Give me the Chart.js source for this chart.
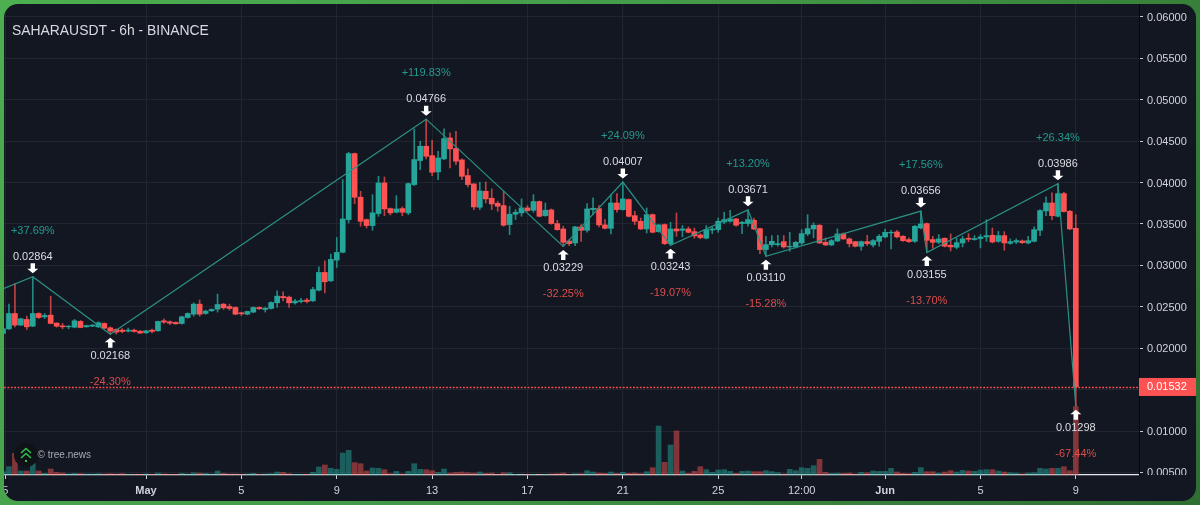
<!DOCTYPE html>
<html><head><meta charset="utf-8">
<style>
html,body{margin:0;padding:0;width:1200px;height:505px;overflow:hidden;background:linear-gradient(125deg,#4caf50 0%,#449a48 45%,#2e6e31 100%);}
#wrap{position:absolute;left:4px;top:4px;width:1192px;height:497px;border-radius:14px;overflow:hidden;background:#131722;}
canvas{display:block;}
</style>
<script src="https://cdn.jsdelivr.net/npm/chart.js@4/dist/chart.umd.min.js"></script>
</head><body><div id="wrap"><canvas id="c" width="1192" height="497"></canvas></div>
<script>
const title = "SAHARAUSDT - 6h - BINANCE";
const watermark = "\u00a9 tree.news";
const firstBar = -24; // 6h bars counted from 1 May 00:00
const opens = [
0.02178,0.02234,0.02419,0.02279,0.02347,0.02266,0.02419,0.02379,0.02399,0.02303,
0.02270,0.02258,0.02254,0.02323,0.02258,0.02266,0.02258,0.02299,0.02246,0.02226,
0.02218,0.02206,0.02218,0.02206,0.02186,0.02218,0.02210,0.02331,0.02319,0.02311,
0.02299,0.02371,0.02411,0.02532,0.02419,0.02452,0.02472,0.02532,0.02504,0.02492,
0.02428,0.02411,0.02436,0.02492,0.02468,0.02480,0.02548,0.02625,0.02617,0.02548,
0.02564,0.02581,0.02572,0.02701,0.02915,0.02814,0.03064,0.03159,0.03553,0.04350,
0.03823,0.03553,0.03481,0.03626,0.03996,0.03686,0.03642,0.03686,0.03634,0.03976,
0.04266,0.04439,0.04326,0.04129,0.04286,0.04539,0.04411,0.04274,0.04085,0.03984,
0.03702,0.03895,0.03811,0.03750,0.03722,0.03493,0.03618,0.03634,0.03694,0.03666,
0.03771,0.03601,0.03670,0.03505,0.03440,0.03295,0.03271,0.03465,0.03424,0.03674,
0.03686,0.03489,0.03448,0.03754,0.03674,0.03795,0.03601,0.03533,0.03440,0.03613,
0.03408,0.03493,0.03263,0.03440,0.03424,0.03440,0.03408,0.03368,0.03328,0.03428,
0.03432,0.03525,0.03533,0.03561,0.03505,0.03505,0.03545,0.03444,0.03191,0.03251,
0.03251,0.03287,0.03223,0.03223,0.03271,0.03380,0.03440,0.03485,0.03279,0.03247,
0.03295,0.03380,0.03320,0.03287,0.03231,0.03287,0.03247,0.03291,0.03344,0.03392,
0.03404,0.03352,0.03312,0.03291,0.03452,0.03505,0.03312,0.03279,0.03328,0.03243,
0.03219,0.03271,0.03328,0.03312,0.03324,0.03344,0.03364,0.03291,0.03360,0.03267,
0.03283,0.03295,0.03271,0.03291,0.03424,0.03658,0.03754,0.03593,0.03867,0.03654,0.03448];
const highs = [
0.02240,0.02532,0.02782,0.02360,0.02387,0.02864,0.02428,0.02419,0.02629,0.02307,
0.02299,0.02274,0.02347,0.02335,0.02278,0.02286,0.02319,0.02307,0.02258,0.02234,
0.02238,0.02242,0.02230,0.02214,0.02214,0.02230,0.02327,0.02355,0.02331,0.02319,
0.02387,0.02427,0.02548,0.02581,0.02460,0.02476,0.02653,0.02540,0.02532,0.02500,
0.02436,0.02448,0.02500,0.02500,0.02492,0.02560,0.02693,0.02681,0.02629,0.02589,
0.02601,0.02601,0.02734,0.02983,0.03056,0.03136,0.03337,0.04036,0.04366,0.04358,
0.03895,0.03561,0.03855,0.04076,0.04068,0.03694,0.03843,0.03706,0.03996,0.04648,
0.04499,0.04766,0.04511,0.04378,0.04648,0.04600,0.04620,0.04286,0.04165,0.03988,
0.04004,0.04008,0.03924,0.03775,0.03895,0.03714,0.03674,0.03803,0.03722,0.03855,
0.03779,0.03754,0.03682,0.03545,0.03473,0.03312,0.03473,0.03493,0.03746,0.03815,
0.03722,0.03553,0.03855,0.03867,0.04007,0.03803,0.03654,0.03573,0.03694,0.03622,
0.03497,0.03501,0.03521,0.03634,0.03481,0.03465,0.03452,0.03384,0.03481,0.03465,
0.03573,0.03642,0.03666,0.03569,0.03533,0.03671,0.03573,0.03452,0.03352,0.03360,
0.03364,0.03360,0.03400,0.03291,0.03432,0.03613,0.03513,0.03493,0.03332,0.03312,
0.03440,0.03392,0.03332,0.03291,0.03295,0.03364,0.03312,0.03372,0.03440,0.03424,
0.03424,0.03360,0.03332,0.03481,0.03656,0.03513,0.03352,0.03372,0.03332,0.03380,
0.03328,0.03352,0.03384,0.03360,0.03372,0.03553,0.03452,0.03412,0.03408,0.03320,
0.03320,0.03307,0.03352,0.03465,0.03674,0.03827,0.03875,0.03986,0.03883,0.03666,0.03613];
const lows = [
0.02170,0.02226,0.02258,0.02275,0.02226,0.02260,0.02359,0.02359,0.02295,0.02254,
0.02234,0.02234,0.02246,0.02246,0.02254,0.02262,0.02250,0.02238,0.02168,0.02170,
0.02186,0.02198,0.02194,0.02178,0.02178,0.02186,0.02206,0.02299,0.02283,0.02287,
0.02291,0.02363,0.02387,0.02387,0.02411,0.02444,0.02436,0.02468,0.02460,0.02403,
0.02395,0.02403,0.02428,0.02468,0.02436,0.02472,0.02492,0.02572,0.02492,0.02532,
0.02548,0.02548,0.02564,0.02693,0.02669,0.02806,0.02975,0.03151,0.03513,0.03746,
0.03473,0.03452,0.03424,0.03593,0.03601,0.03609,0.03634,0.03601,0.03613,0.03964,
0.04157,0.04286,0.04085,0.04036,0.04278,0.04177,0.04217,0.04036,0.03948,0.03674,
0.03674,0.03754,0.03674,0.03654,0.03473,0.03372,0.03553,0.03593,0.03654,0.03642,
0.03585,0.03593,0.03497,0.03424,0.03229,0.03239,0.03239,0.03291,0.03400,0.03613,
0.03465,0.03440,0.03380,0.03642,0.03666,0.03585,0.03493,0.03432,0.03392,0.03392,
0.03400,0.03251,0.03243,0.03352,0.03344,0.03392,0.03328,0.03320,0.03320,0.03384,
0.03400,0.03505,0.03521,0.03473,0.03384,0.03473,0.03432,0.03142,0.03110,0.03223,
0.03231,0.03207,0.03171,0.03211,0.03251,0.03360,0.03332,0.03263,0.03239,0.03239,
0.03287,0.03312,0.03223,0.03223,0.03183,0.03239,0.03223,0.03231,0.03332,0.03199,
0.03332,0.03291,0.03279,0.03279,0.03440,0.03155,0.03207,0.03263,0.03223,0.03175,
0.03199,0.03223,0.03287,0.03304,0.03211,0.03291,0.03271,0.03279,0.03183,0.03255,
0.03263,0.03263,0.03259,0.03283,0.03360,0.03601,0.03553,0.03585,0.03642,0.03432,0.01298];
const closes = [
0.02234,0.02419,0.02279,0.02355,0.02258,0.02419,0.02371,0.02395,0.02299,0.02266,
0.02258,0.02266,0.02331,0.02250,0.02274,0.02279,0.02307,0.02242,0.02206,0.02194,
0.02202,0.02218,0.02202,0.02182,0.02210,0.02202,0.02323,0.02315,0.02303,0.02295,
0.02379,0.02419,0.02532,0.02411,0.02448,0.02468,0.02528,0.02488,0.02480,0.02411,
0.02415,0.02444,0.02492,0.02476,0.02484,0.02552,0.02629,0.02609,0.02548,0.02568,
0.02576,0.02564,0.02709,0.02915,0.02802,0.03072,0.03156,0.03561,0.04350,0.03823,
0.03533,0.03481,0.03634,0.03996,0.03682,0.03634,0.03682,0.03642,0.03988,0.04278,
0.04439,0.04318,0.04125,0.04298,0.04531,0.04407,0.04258,0.04076,0.03976,0.03706,
0.03899,0.03803,0.03742,0.03714,0.03485,0.03618,0.03642,0.03694,0.03662,0.03771,
0.03593,0.03666,0.03505,0.03432,0.03279,0.03263,0.03465,0.03424,0.03682,0.03690,
0.03489,0.03448,0.03754,0.03674,0.03803,0.03593,0.03533,0.03440,0.03613,0.03400,
0.03489,0.03263,0.03440,0.03416,0.03440,0.03400,0.03356,0.03336,0.03432,0.03440,
0.03533,0.03553,0.03561,0.03485,0.03521,0.03553,0.03440,0.03191,0.03251,0.03291,
0.03263,0.03223,0.03231,0.03279,0.03384,0.03444,0.03485,0.03271,0.03247,0.03299,
0.03380,0.03320,0.03263,0.03231,0.03287,0.03263,0.03299,0.03352,0.03400,0.03400,
0.03344,0.03299,0.03287,0.03473,0.03501,0.03303,0.03279,0.03320,0.03231,0.03223,
0.03275,0.03320,0.03316,0.03324,0.03344,0.03360,0.03283,0.03360,0.03271,0.03287,
0.03299,0.03275,0.03299,0.03432,0.03662,0.03754,0.03601,0.03867,0.03650,0.03440,0.01532];
const volumes = [
10,25,65,12,12,35,12,5,18,8,
6,3,5,4,3,3,4,3,4,3,
4,2,2,2,3,2,6,3,2,2,
5,3,7,6,5,3,12,5,3,3,
2,3,5,2,3,4,9,8,4,2,
2,2,8,24,30,20,17,66,74,37,
34,12,21,20,16,4,11,3,11,34,
17,16,13,8,18,6,8,9,7,6,
9,5,6,2,7,7,2,1,2,2,
1,2,3,4,6,2,4,4,13,9,
6,5,9,5,8,5,6,4,10,22,
147,38,90,132,12,5,11,25,16,8,
15,16,11,5,11,12,10,10,13,10,
7,3,17,13,22,20,28,47,8,5,
6,5,6,3,8,7,12,11,11,20,
9,5,4,8,22,10,10,6,9,13,
9,14,12,11,15,16,16,12,9,7,
6,3,6,7,20,18,20,20,25,13,205];
// zig-zag pivots
const pivotBars   = [-46,-19,-6,47,70,80,88,101,104,130,131,153,156];
const pivotPrices = [0.0208,0.02864,0.02168,0.04766,0.03229,0.04007,0.03243,0.03671,0.03110,0.03656,0.03155,0.03986,0.01298];
const pivotPcts   = ["","+37.69%","-24.30%","+119.83%","-32.25%","+24.09%","-19.07%","+13.20%","-15.28%","+17.56%","-13.70%","+26.34%","-67.44%"];
// axes
const priceTicks = [0.005,0.01,0.015,0.02,0.025,0.03,0.035,0.04,0.045,0.05,0.055,0.06];
const timeTickBars = [-23.6,0,16,32,48,64,80,96,110,124,140,156];
const timeTickLabels = ["5","May","5","9","13","17","21","25","12:00","Jun","5","9"];
const boldTimeLabels = ["May","Jun"];

const UP='#26a69a', DOWN='#ff5252', BG='#131722', TXT='#d1d4dc', FONT='"Liberation Sans",Arial,sans-serif';
const bars = opens.map((_,i)=>firstBar+i);
const colors = opens.map((o,i)=>closes[i]>=o?UP:DOWN);
const wickColors = opens.map((o,i)=>closes[i]>=o?'rgba(38,166,154,.8)':'rgba(255,82,82,.72)');
const volColors = opens.map((o,i)=>closes[i]>=o?'rgba(38,166,154,.5)':'rgba(239,83,80,.5)');
const lastClose = closes[closes.length-1];

function fixPad(s){s.paddingLeft=s.paddingRight=s.paddingTop=s.paddingBottom=0;}
function shiftLabels(s,dy){
  const orig=s.drawLabels;
  s.drawLabels=function(area){const c=this.ctx;c.save();c.translate(0,dy);orig.call(this,area);c.restore();};
}

const overlay = {
  id:'overlay',
  afterLayout(chart){
    if(chart.$shifted)return;chart.$shifted=true;
    shiftLabels(chart.scales.x,1);shiftLabels(chart.scales.y,1);
  },
  afterDatasetsDraw(chart){
    const {ctx,chartArea:a,scales:{x,y}}=chart;
    ctx.save();
    // last price dotted line
    const ly=Math.round(y.getPixelForValue(lastClose))+.5;
    ctx.strokeStyle='#ff4d4d';ctx.lineWidth=1.4;ctx.setLineDash([1.8,1.6]);
    ctx.beginPath();ctx.moveTo(a.left,ly);ctx.lineTo(a.right,ly);ctx.stroke();ctx.setLineDash([]);
    // pivots
    ctx.textAlign='center';ctx.textBaseline='middle';
    pivotBars.forEach((b,i)=>{
      if(!pivotPcts[i])return;
      const px=x.getPixelForValue(b),py=y.getPixelForValue(pivotPrices[i]);
      const up=pivotPcts[i][0]==='+';
      const d=up?-1:1;
      ctx.fillStyle='#fff';
      ctx.beginPath();
      const t=py+d*3.5,m=py+d*8,e=py+d*13.5;
      ctx.moveTo(px,t);ctx.lineTo(px+5.5,m);ctx.lineTo(px+2.2,m);ctx.lineTo(px+2.2,e);
      ctx.lineTo(px-2.2,e);ctx.lineTo(px-2.2,m);ctx.lineTo(px-5.5,m);ctx.closePath();ctx.fill();
      ctx.font='11px '+FONT;ctx.fillStyle='#dcdee4';
      ctx.fillText(pivotPrices[i].toFixed(5),px,py+d*21+1);
      ctx.fillStyle=up?'rgba(38,166,154,.9)':'rgba(239,83,80,.9)';
      ctx.fillText(pivotPcts[i],px,py+d*47+1);
    });
    // title
    ctx.textAlign='left';ctx.font='13.9px '+FONT;ctx.fillStyle='#d8dae0';
    ctx.fillText(title,8,27.5);
    // watermark
    ctx.fillStyle='#0f1216';ctx.beginPath();ctx.arc(22,451,12,0,Math.PI*2);ctx.fill();
    ctx.strokeStyle='#2fc24f';ctx.lineWidth=1.6;
    [444.5,449.5].forEach(v=>{ctx.beginPath();ctx.moveTo(17,v+4.5);ctx.lineTo(22,v);ctx.lineTo(27,v+4.5);ctx.stroke();});
    ctx.fillStyle='#2fc24f';ctx.fillRect(21,456,2,2);
    ctx.font='10px '+FONT;ctx.fillStyle='#a5a9b2';ctx.fillText(watermark,33.5,451);
    ctx.restore();
  },
  afterDraw(chart){
    const {ctx,chartArea:a,scales:{y}}=chart;
    ctx.save();
    // clip the lowest price label at the time axis
    ctx.fillStyle=BG;ctx.fillRect(a.right+1,a.bottom,60,5);
    const py=y.getPixelForValue(lastClose);
    ctx.fillStyle='#ff5252';ctx.fillRect(a.right,py-9,57,18);
    ctx.fillStyle='#fff';ctx.font='11px '+FONT;ctx.textAlign='left';ctx.textBaseline='middle';
    ctx.fillText(lastClose.toFixed(5),a.right+8,py+.5);
    ctx.restore();
  }
};

new Chart(document.getElementById('c'),{
  type:'bar',
  plugins:[overlay],
  data:{datasets:[
    {type:'line',order:0,xAxisID:'x',yAxisID:'y',
     data:pivotBars.map((b,i)=>({x:b,y:pivotPrices[i]})),
     borderColor:'#2a9185',borderWidth:1.2,pointRadius:0,tension:0,fill:false},
    {order:1,grouped:false,xAxisID:'x',yAxisID:'y',barThickness:5,
     data:bars.map((b,i)=>({x:b,y:[opens[i],closes[i]]})),backgroundColor:colors},
    {order:2,grouped:false,xAxisID:'x',yAxisID:'y',barThickness:1,
     data:bars.map((b,i)=>({x:b,y:[lows[i],highs[i]]})),backgroundColor:wickColors},
    {order:3,grouped:false,xAxisID:'x',yAxisID:'vol',barThickness:5,
     data:bars.map((b,i)=>({x:b,y:volumes[i]})),backgroundColor:volColors}
  ]},
  options:{
    responsive:false,animation:false,events:[],
    layout:{padding:0},
    plugins:{legend:{display:false},tooltip:{enabled:false}},
    scales:{
      x:{type:'linear',position:'bottom',min:-23.83,max:166.6,offset:false,
        afterBuildTicks(s){s.ticks=timeTickBars.map(v=>({value:v}));},
        afterFit(s){s.height=26;fixPad(s);},
        grid:{color:'rgba(42,46,57,.6)',tickColor:'#d1d4dc',tickLength:4,drawTicks:true,offset:false},
        border:{color:'#e8eaee',width:1.3},
        ticks:{autoSkip:false,maxRotation:0,minRotation:0,padding:4,color:TXT,
          font:c=>({family:FONT,size:11,weight:boldTimeLabels.includes(timeTickLabels[timeTickBars.indexOf(c.tick&&c.tick.value)])?'bold':'normal'}),
          callback:v=>timeTickLabels[timeTickBars.indexOf(v)]}},
      y:{type:'linear',position:'right',min:0.004686,max:0.061570,
        afterBuildTicks(s){s.ticks=priceTicks.map(v=>({value:v}));},
        afterFit(s){s.width=57;fixPad(s);},
        grid:{color:'rgba(42,46,57,.6)',tickColor:'#c8cad0',tickLength:4},
        border:{color:'#05060a',width:1},
        ticks:{autoSkip:false,padding:4,color:TXT,font:{family:FONT,size:11},callback:v=>v.toFixed(5)}},
      vol:{type:'linear',display:false,min:0,max:1413}
    }
  }
});
</script></body></html>
